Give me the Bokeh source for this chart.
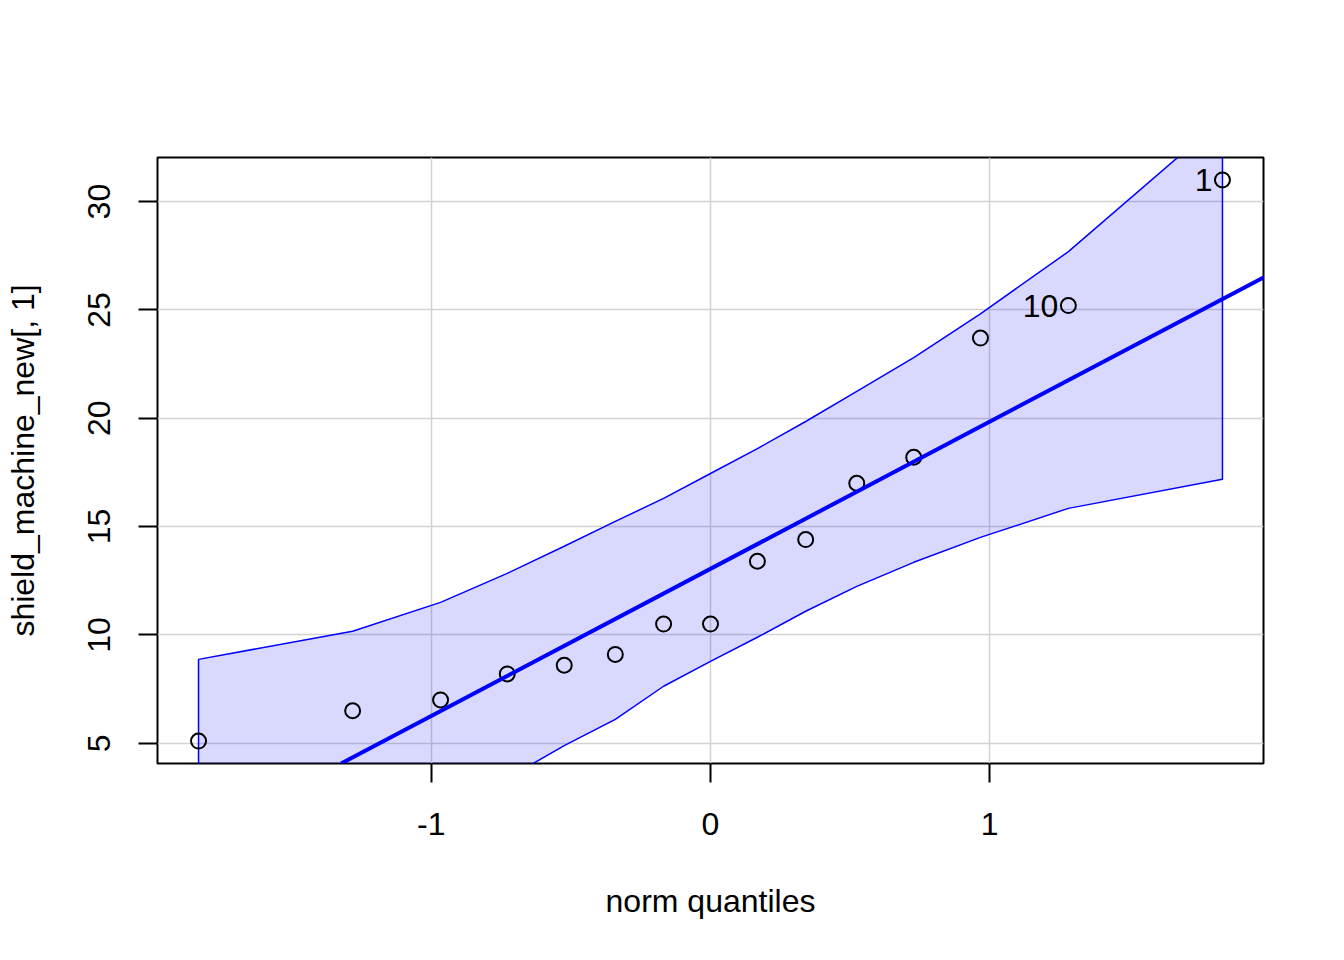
from bokeh.plotting import figure
from bokeh.models import Range1d, FixedTicker, Slope
from bokeh.core.properties import value
from bokeh.embed import file_html
from bokeh.resources import INLINE

# theoretical normal quantiles (x) and observed values (y)
norm_q = [-1.834, -1.282, -0.967, -0.728, -0.524, -0.341, -0.168, 0.0,
          0.168, 0.341, 0.524, 0.728, 0.967, 1.282, 1.834]
obs = [5.1, 6.5, 7.0, 8.2, 8.6, 9.1, 10.5, 10.5,
       13.4, 14.4, 17.0, 18.2, 23.7, 25.2, 31.0]
# confidence envelope
upper = [8.87, 10.17, 11.5, 12.84, 14.09, 15.24, 16.3, 17.45,
         18.6, 19.85, 21.24, 22.8, 24.82, 27.69, 33.82]
lower = [-7.67, -1.47, 1.46, 3.38, 4.89, 6.1, 7.63, 8.78,
         9.89, 11.09, 12.24, 13.35, 14.5, 15.84, 17.18]
# reference line
line_intercept = 13.05
line_slope = 6.79
# labelled points
lab_x = [1.834, 1.282]
lab_y = [31.0, 25.2]
lab_text = ["1", "10"]

x_ticks = [-1, 0, 1]
x_tick_labels = {-1: "-1", 0: "0", 1: "1"}
y_ticks = [5, 10, 15, 20, 25, 30]

FONT = "Liberation Sans"

p = figure(width=1336, height=952, output_backend="svg", toolbar_location=None,
           x_range=Range1d(-1.981, 1.981), y_range=Range1d(4.064, 32.036),
           min_border_left=157, min_border_right=73, min_border_top=157,
           min_border_bottom=189)
p.frame_width = 1106
p.frame_height = 606

p.outline_line_color = "black"
p.outline_line_width = 2
p.background_fill_color = "white"
p.border_fill_color = "white"

for g in (p.xgrid, p.ygrid):
    g.grid_line_color = "#d3d3d3"
    g.grid_line_width = 1.5
p.xgrid.ticker = FixedTicker(ticks=x_ticks)
p.ygrid.ticker = FixedTicker(ticks=y_ticks)

for ax in (p.xaxis, p.yaxis):
    ax.axis_line_color = None
    ax.major_tick_line_color = "black"
    ax.major_tick_line_width = 2
    ax.major_tick_out = 19
    ax.major_tick_in = 0
    ax.minor_tick_line_color = None
    ax.major_label_text_font = FONT
    ax.major_label_text_font_size = "32px"
    ax.major_label_text_color = "black"
    ax.axis_label_text_font = FONT
    ax.axis_label_text_font_size = "32px"
    ax.axis_label_text_font_style = "normal"
    ax.axis_label_text_color = "black"

p.xaxis.ticker = FixedTicker(ticks=x_ticks)
p.xaxis.major_label_overrides = x_tick_labels
p.yaxis.ticker = FixedTicker(ticks=y_ticks)
p.yaxis.major_label_orientation = "vertical"
p.xaxis.axis_label = "norm quantiles"
p.yaxis.axis_label = "shield_machine_new[, 1]"
p.xaxis.major_label_standoff = 30
p.yaxis.major_label_standoff = 28
p.xaxis.axis_label_standoff = 45
p.yaxis.axis_label_standoff = 45

# envelope polygon
px = norm_q + norm_q[::-1]
py = upper + lower[::-1]
p.patch(px, py, fill_color="blue", fill_alpha=0.15, line_color="blue", line_width=1.5)

# reference line
p.add_layout(Slope(gradient=line_slope, y_intercept=line_intercept,
                   line_color="blue", line_width=4))

# points
p.scatter(norm_q, obs, marker="circle", size=15, fill_color=None,
          line_color="black", line_width=2)

p.text(lab_x, lab_y, text=lab_text, text_align="right", text_baseline="middle",
       x_offset=-10, text_font=value(FONT), text_font_size="32px", text_color="black")

open("out.html", "w").write(file_html(p, INLINE))
